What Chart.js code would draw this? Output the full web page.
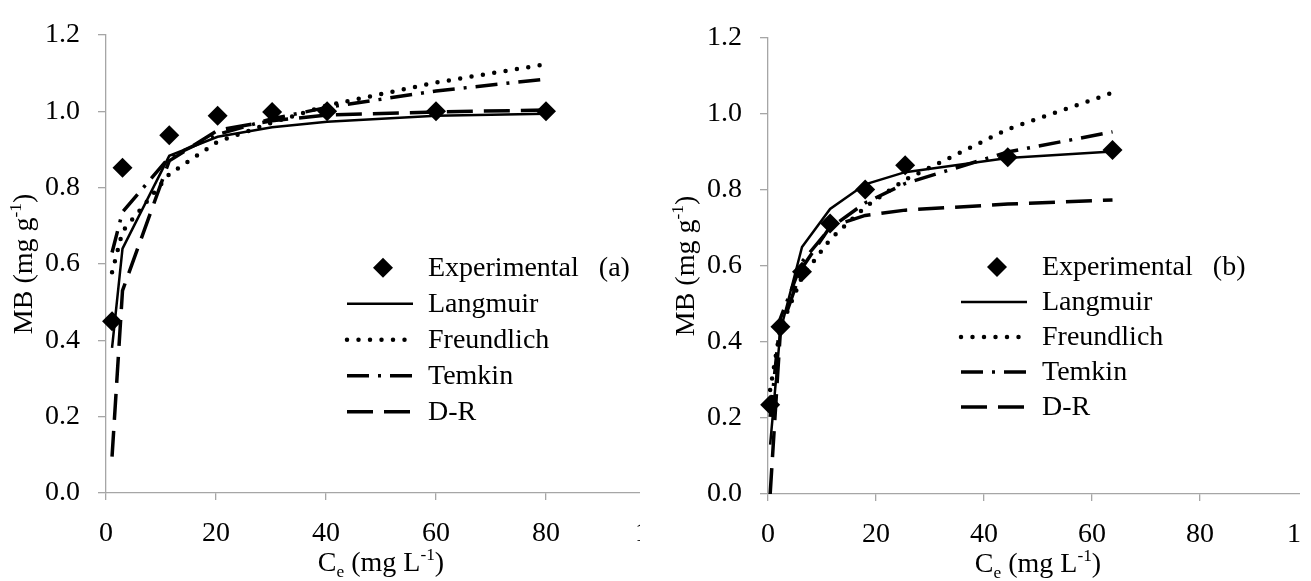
<!DOCTYPE html>
<html>
<head>
<meta charset="utf-8">
<script src="https://cdn.jsdelivr.net/npm/chart.js@4.4.0/dist/chart.umd.min.js"></script>
<style>
  html, body { margin: 0; padding: 0; background: #fff; }
  #page { position: relative; width: 1311px; height: 581px; overflow: hidden; background: #fff; }
  .panel { position: absolute; top: 0; height: 581px; overflow: hidden; }
  #panelA { left: 0; width: 640px; }
  #panelB { left: 640px; width: 660px; }
</style>
</head>
<body>
<div id="page">
  <div class="panel" id="panelA"><canvas id="chartA" width="700" height="581"></canvas></div>
  <div class="panel" id="panelB"><canvas id="chartB" width="720" height="581"></canvas></div>
</div>
<script>
// (a) isothermes - Ce en mg/L, qe en mg/g
const CeA = [1.1, 3, 11.5, 20.3, 30.2, 40.2, 60, 80]
const ExpA = [0.45, 0.852, 0.937, 0.988, 0.998, 1.0, 1.0, 1.0]
const LangmuirA = [0.38, 0.64, 0.883, 0.933, 0.958, 0.972, 0.988, 0.993]
const FreundlichA = [0.578, 0.685, 0.835, 0.92, 0.97, 1.015, 1.075, 1.123]
const TemkinA = [0.63, 0.736, 0.879, 0.939, 0.98, 1.01, 1.053, 1.084]
const DRA = [0.095, 0.53, 0.87, 0.95, 0.975, 0.99, 0.998, 1.003]

// (b)
const CeB = [0.4, 2.3, 6.3, 11.5, 18, 25.4, 44.4, 63.8]
const ExpB = [0.235, 0.44, 0.585, 0.712, 0.801, 0.865, 0.886, 0.905]
const LangmuirB = [0.13, 0.43, 0.65, 0.75, 0.815, 0.847, 0.884, 0.901]
const FreundlichB = [0.274, 0.437, 0.571, 0.67, 0.755, 0.827, 0.96, 1.056]
const TemkinB = [0.203, 0.462, 0.611, 0.70, 0.766, 0.817, 0.90, 0.953]
const DRB = [0.0, 0.43, 0.595, 0.703, 0.733, 0.747, 0.763, 0.774]

const SeriesNames = ["Experimental", "Langmuir", "Freundlich", "Temkin", "D-R"]
const XTicks = [0, 20, 40, 60, 80, 100]
const YTicks = [0, 0.2, 0.4, 0.6, 0.8, 1.0, 1.2]

const FONT = '"Liberation Serif", "Times New Roman", serif'
const TAILLE = 28
const GRIS = "#a6a6a6"

function points(xs, ys) {
    return xs.map((x, i) => ({ x: x, y: ys[i] }))
}

// texte avec indice / exposant
function drawRich(ctx, parts, x, y, align) {
    let total = 0
    parts.forEach(p => {
        ctx.font = ((p.sub || p.sup) ? TAILLE * 0.62 : TAILLE) + "px " + FONT
        p.w = ctx.measureText(p.t).width
        total += p.w
    })
    let cx = align === "center" ? x - total / 2 : x
    parts.forEach(p => {
        ctx.font = ((p.sub || p.sup) ? TAILLE * 0.62 : TAILLE) + "px " + FONT
        let dy = p.sub ? TAILLE * 0.2 : (p.sup ? -TAILLE * 0.38 : 0)
        ctx.fillText(p.t, cx, y + dy)
        cx += p.w
    })
}

const TitreX = [{ t: "C" }, { t: "e", sub: true }, { t: " (mg L" }, { t: "-1", sup: true }, { t: ")" }]
const TitreY = [{ t: "MB (mg g" }, { t: "-1", sup: true }, { t: ")" }]

const decorPlugin = {
    id: "decor",
    afterDraw(chart, args, opts) {
        const ctx = chart.ctx
        const area = chart.chartArea
        ctx.save()
        ctx.fillStyle = "#000"
        ctx.textBaseline = "alphabetic"

        // titres des axes
        drawRich(ctx, TitreX, (area.left + area.right) / 2, area.bottom + 78, "center")
        ctx.save()
        ctx.translate(area.left - 74, (area.top + area.bottom) / 2)
        ctx.rotate(-Math.PI / 2)
        drawRich(ctx, TitreY, 0, 0, "center")
        ctx.restore()

        // legende dans la zone du graphe
        const lx = area.left + opts.x
        let ly = area.top + opts.y
        chart.data.datasets.forEach((ds, i) => {
            ctx.save()
            if (ds.showLine === false) {
                ctx.beginPath()
                const cx = lx + 36, r = ds.pointRadius
                ctx.moveTo(cx - r, ly)
                ctx.lineTo(cx, ly - r)
                ctx.lineTo(cx + r, ly)
                ctx.lineTo(cx, ly + r)
                ctx.closePath()
                ctx.fill()
            } else {
                ctx.strokeStyle = ds.borderColor
                ctx.lineWidth = ds.borderWidth
                ctx.lineCap = ds.borderCapStyle || "butt"
                ctx.setLineDash(ds.borderDash || [])
                ctx.beginPath()
                ctx.moveTo(lx, ly)
                ctx.lineTo(lx + 66, ly)
                ctx.stroke()
            }
            ctx.restore()
            ctx.font = TAILLE + "px " + FONT
            ctx.textBaseline = "middle"
            ctx.fillText(ds.label, lx + 81, ly + 1)
            if (i === 0) {
                const w = ctx.measureText(ds.label).width
                ctx.fillText(opts.tag, lx + 81 + w + 20, ly + 1)
            }
            ly += opts.gap
        })
        ctx.restore()
    }
}

function lineDataset(label, xs, ys, style) {
    return Object.assign({
        label: label,
        data: points(xs, ys),
        showLine: true,
        borderColor: "#000",
        borderWidth: 3,
        pointRadius: 0,
        tension: 0,
        fill: false
    }, style)
}

function makeChart(id, xs, exp, lang, freund, temkin, dr, cadre, legende) {
    const datasets = [
        {
            label: SeriesNames[0],
            data: points(xs, exp),
            showLine: false,
            pointStyle: "rectRot",
            pointRadius: 10,
            pointBackgroundColor: "#000",
            pointBorderWidth: 0,
            clip: false
        },
        lineDataset(SeriesNames[1], xs, lang, { borderWidth: 2.5 }),
        lineDataset(SeriesNames[2], xs, freund, { borderWidth: 4.5, borderDash: [0, 11.5], borderCapStyle: "round" }),
        lineDataset(SeriesNames[3], xs, temkin, { borderWidth: 3.5, borderDash: [22, 9, 3, 9] }),
        lineDataset(SeriesNames[4], xs, dr, { borderWidth: 3.5, borderDash: [26, 11] })
    ]

    return new Chart(document.getElementById(id), {
        type: "scatter",
        data: { datasets: datasets },
        options: {
            responsive: false,
            animation: false,
            devicePixelRatio: 1,
            events: [],
            layout: { padding: { left: 0, top: cadre.top, right: cadre.right, bottom: 0 } },
            plugins: {
                legend: { display: false },
                tooltip: { enabled: false },
                decor: legende
            },
            scales: {
                x: {
                    type: "linear",
                    min: XTicks[0],
                    max: XTicks[XTicks.length - 1],
                    afterBuildTicks: s => { s.ticks = XTicks.map(v => ({ value: v })) },
                    afterFit: s => { s.height = cadre.bas },
                    border: { color: GRIS, width: 1.3 },
                    grid: { drawOnChartArea: false, color: GRIS, tickLength: 7, lineWidth: 1.3 },
                    ticks: {
                        color: "#000",
                        padding: 17,
                        maxRotation: 0,
                        font: { family: FONT, size: TAILLE },
                        callback: v => String(v)
                    }
                },
                y: {
                    min: 0,
                    max: 1.2,
                    afterBuildTicks: s => { s.ticks = YTicks.map(v => ({ value: v })) },
                    afterFit: s => { s.width = cadre.gauche },
                    border: { color: GRIS, width: 1.3 },
                    grid: { drawOnChartArea: false, color: GRIS, tickLength: 8, lineWidth: 1.3 },
                    ticks: {
                        color: "#000",
                        padding: 18,
                        font: { family: FONT, size: TAILLE },
                        callback: v => v.toFixed(1)
                    }
                }
            }
        },
        plugins: [decorPlugin]
    })
}

window.addEventListener("DOMContentLoaded", () => {
    makeChart("chartA", CeA, ExpA, LangmuirA, FreundlichA, TemkinA, DRA,
        { gauche: 106, top: 15, right: 44, bas: 88 },
        { x: 241, y: 233, gap: 36, tag: "(a)" })
    makeChart("chartB", CeB, ExpB, LangmuirB, FreundlichB, TemkinB, DRB,
        { gauche: 128, top: 38, right: 52, bas: 87 },
        { x: 193, y: 229, gap: 35, tag: "(b)" })
})
</script>
</body>
</html>
